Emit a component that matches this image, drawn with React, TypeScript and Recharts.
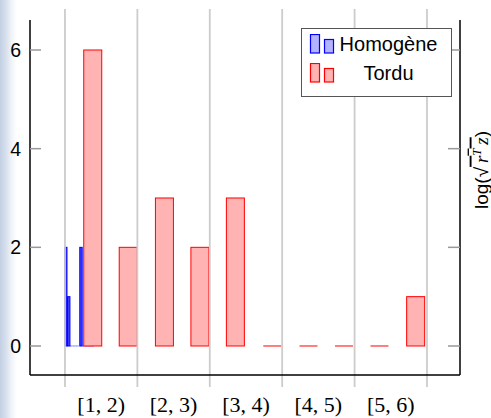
import {
  Bar,
  ComposedChart,
  Legend,
  ReferenceLine,
  XAxis,
  YAxis,
} from "recharts";

// bar centres (x in bin units) and heights
const homogeneX = [1.015, 1.056, 1.097, 1.138, 1.179, 1.225, 1.266, 1.307, 1.348, 1.389];
const homogene = [2, 1, 0, 0, 0, 2, 0, 0, 0, 0];
const torduX = [1.38, 1.87, 2.37, 2.86, 3.35, 3.86, 4.36, 4.85, 5.34, 5.84];
const tordu = [6, 2, 3, 2, 3, 0, 0, 0, 0, 1];

const gridX = [1, 2, 3, 4, 5, 6];
const binTicks = [1.5, 2.5, 3.5, 4.5, 5.5];
const binLabels = ["[1, 2)", "[2, 3)", "[3, 4)", "[4, 5)", "[5, 6)"];
const yTicks = [0, 2, 4, 6];

const X_DOMAIN: [number, number] = [0.517, 6.456];
const Y_DOMAIN: [number, number] = [-0.588, 6.608];

const data = homogeneX.map((x, i) => ({
  xh: x,
  homogene: homogene[i],
  xt: torduX[i],
  tordu: tordu[i],
}));

const SANS = "'Liberation Sans', Arial, sans-serif";
const SERIF = "'Liberation Serif', 'DejaVu Serif', serif";

function BarShape(props: any) {
  const { x, y, width, height, fill, stroke } = props;
  if (![x, y, width].every(Number.isFinite)) return null;
  const h = Number.isFinite(height) ? height : 0;
  const thin = width < 4;
  if (Math.abs(h) < 0.5) {
    return (
      <line
        x1={x}
        x2={x + width}
        y1={y}
        y2={y}
        stroke={stroke}
        strokeWidth={1}
        strokeDasharray={thin ? "1 1" : undefined}
      />
    );
  }
  return (
    <rect
      x={x}
      y={h < 0 ? y + h : y}
      width={width}
      height={Math.abs(h)}
      fill={thin ? stroke : fill}
      fillOpacity={thin ? 0.75 : 1}
      stroke={stroke}
      strokeWidth={1}
    />
  );
}

function LeftTick(props: any) {
  const { x, y, payload } = props;
  return (
    <g>
      <line x1={x} x2={x + 11} y1={y} y2={y} stroke="#999" strokeWidth={1.5} />
      <text x={x - 9} y={y} dy="0.36em" textAnchor="end" fontFamily={SANS} fontSize={19.5} fill="#000">
        {payload.value}
      </text>
    </g>
  );
}

function RightTick(props: any) {
  const { x, y } = props;
  return <line x1={x - 12} x2={x} y1={y} y2={y} stroke="#999" strokeWidth={1.5} />;
}

function BinTick(props: any) {
  const { x, y, payload } = props;
  const label = binLabels[binTicks.indexOf(payload.value)] ?? "";
  return (
    <text x={x} y={y + 16} textAnchor="middle" fontFamily={SERIF} fontSize={22} fill="#000">
      {label}
    </text>
  );
}

function RightLabel(props: any) {
  const vb = props.viewBox ?? { x: 460, y: 20, width: 31, height: 355 };
  const cx = vb.x + 21;
  const cy = vb.y + 150;
  return (
    <text
      x={cx}
      y={cy}
      dy="0.35em"
      textAnchor="middle"
      transform={`rotate(-90, ${cx}, ${cy})`}
      fontFamily={SANS}
      fontSize={19}
      fill="#000"
    >
      log(√
      <tspan textDecoration="overline" fontStyle="italic" fontFamily={SERIF}>
        {"\u2009r"}
        <tspan dy={-7} fontSize={13} fontStyle="italic">T</tspan>
        <tspan dy={7}>{"\u2009z"}</tspan>
      </tspan>
      )
    </text>
  );
}

function LegendIcon({ fill, stroke }: { fill: string; stroke: string }) {
  return (
    <svg width={26} height={20} style={{ position: "absolute", left: 7, top: 0 }}>
      <rect x={1.5} y={0.5} width={9} height={18.5} fill={fill} stroke={stroke} strokeWidth={1.2} />
      <rect x={15.5} y={5.5} width={9} height={13.5} fill={fill} stroke={stroke} strokeWidth={1.2} />
    </svg>
  );
}

function LegendBox() {
  const rows = [
    { name: "Homogène", fill: "#b3b3ff", stroke: "#0000ff", top: 5 },
    { name: "Tordu", fill: "#ffb3b3", stroke: "#ff0000", top: 34 },
  ];
  return (
    <div
      style={{
        position: "relative",
        width: 151,
        height: 69,
        boxSizing: "border-box",
        border: "1.5px solid #555",
        background: "#fff",
        fontFamily: SANS,
        fontSize: 20,
        color: "#000",
      }}
    >
      {rows.map((r) => (
        <div key={r.name} style={{ position: "absolute", left: 0, top: r.top, width: "100%", height: 20 }}>
          <LegendIcon fill={r.fill} stroke={r.stroke} />
          <div
            style={{
              position: "absolute",
              left: 34,
              width: 105,
              top: -2,
              lineHeight: "24px",
              textAlign: "center",
            }}
          >
            {r.name}
          </div>
        </div>
      ))}
    </div>
  );
}

export default function App() {
  return (
    <div
      style={{
        position: "absolute",
        left: 0,
        top: 0,
        width: 491,
        height: 418,
        background:
          "linear-gradient(to right, #c3d0e4 0px, #d6dfec 6px, #eef2f7 11px, #ffffff 17px)",
      }}
    >
      <ComposedChart
        width={491}
        height={418}
        data={data}
        margin={{ top: 20, right: 0, bottom: 0, left: 0 }}
      >
        <XAxis
          xAxisId="t"
          dataKey="xt"
          type="number"
          domain={X_DOMAIN}
          allowDataOverflow
          ticks={binTicks}
          interval={0}
          height={43}
          tickSize={0}
          tickMargin={21}
          tickLine={false}
          axisLine={{ stroke: "#000", strokeWidth: 1.5 }}
          tick={<BinTick />}
        />
        <XAxis
          xAxisId="h"
          orientation="top"
          dataKey="xh"
          type="number"
          domain={X_DOMAIN}
          allowDataOverflow
          height={0}
          hide
        />
        <XAxis
          xAxisId="top"
          orientation="top"
          dataKey="xt"
          type="number"
          domain={X_DOMAIN}
          allowDataOverflow
          height={0}
          tick={false}
          tickLine={false}
          axisLine={{ stroke: "#000", strokeWidth: 1.5 }}
        />
        <YAxis
          yAxisId="left"
          type="number"
          domain={Y_DOMAIN}
          allowDataOverflow
          ticks={yTicks}
          width={30}
          tickSize={0}
          tickMargin={0}
          tickLine={false}
          axisLine={{ stroke: "#000", strokeWidth: 1.5 }}
          tick={<LeftTick />}
        />
        <YAxis
          yAxisId="right"
          orientation="right"
          type="number"
          domain={Y_DOMAIN}
          allowDataOverflow
          ticks={yTicks}
          width={31}
          tickSize={0}
          tickMargin={0}
          tickLine={false}
          axisLine={{ stroke: "#000", strokeWidth: 1.5 }}
          tick={<RightTick />}
          label={{ content: RightLabel }}
        />
        {gridX.map((g) => (
          <ReferenceLine
            key={g}
            xAxisId="t"
            yAxisId="left"
            ifOverflow="visible"
            segment={[
              { x: g, y: -0.83 },
              { x: g, y: 6.83 },
            ]}
            stroke="#cccccc"
            strokeWidth={1.8}
          />
        ))}
        <Bar
          xAxisId="h"
          yAxisId="left"
          dataKey="homogene"
          name="Homogène"
          barSize={2.4}
          fill="#b3b3ff"
          stroke="#0000ff"
          shape={<BarShape />}
          isAnimationActive={false}
        />
        <Bar
          xAxisId="t"
          yAxisId="left"
          dataKey="tordu"
          name="Tordu"
          barSize={18}
          fill="#ffb3b3"
          stroke="#ff0000"
          shape={<BarShape />}
          isAnimationActive={false}
        />
        <Legend
          layout="vertical"
          align="center"
          verticalAlign="middle"
          wrapperStyle={{ top: 28, left: 301, width: 151, height: 69 }}
          content={() => <LegendBox />}
        />
      </ComposedChart>
    </div>
  );
}
